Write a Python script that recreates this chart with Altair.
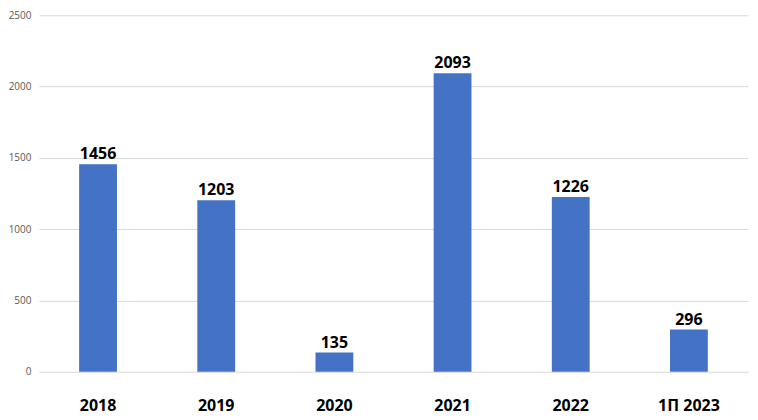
import altair as alt
import pandas as pd

categories = ["2018", "2019", "2020", "2021", "2022", "1П 2023"]
values = [1456, 1203, 135, 2093, 1226, 296]

df = pd.DataFrame({"cat": categories, "val": values})

x = alt.X("cat:N", sort=categories, title=None,
          scale=alt.Scale(paddingInner=0.68, paddingOuter=0.34),
          axis=alt.Axis(labelAngle=0, labelFont="Open Sans", labelFontWeight="bold",
                        labelFontSize=16, labelColor="#000000", ticks=False, domain=False,
                        labelPadding=26))
y = alt.Y("val:Q", title=None,
          scale=alt.Scale(domain=[0, 2500], nice=False),
          axis=alt.Axis(values=[0, 500, 1000, 1500, 2000, 2500], format="d",
                        labelFont="Open Sans",
                        labelFontSize=10, labelColor="#595959", ticks=False, domain=False,
                        gridColor="#d9d9d9", gridWidth=1, labelPadding=8))

bars = alt.Chart(df).mark_bar(color="#4472C4").encode(x=x, y=y)
labels = alt.Chart(df).mark_text(font="Open Sans", fontWeight="bold", fontSize=16,
                                 color="#000000", baseline="bottom", dy=-2).encode(
    x=alt.X("cat:N", sort=categories), y="val:Q", text="val:Q")

chart = (bars + labels).properties(
    width=710, height=357,
    autosize=alt.AutoSizeParams(type="none"),
    padding={"left": 31, "top": 7, "right": 2, "bottom": 46},
    background="white",
).configure_view(stroke=None)

chart.save("out.html", embed_options={"renderer": "svg", "actions": False})
